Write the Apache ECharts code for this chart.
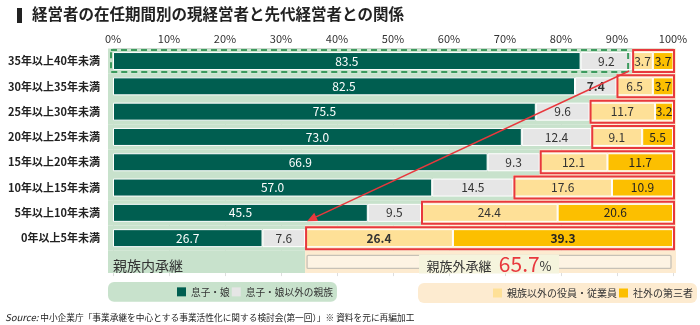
<!DOCTYPE html>
<html><head><meta charset="utf-8">
<script src="https://cdn.jsdelivr.net/npm/echarts@6/dist/echarts.min.js"></script>
<style>html,body{margin:0;padding:0;background:#fff}#c{width:700px;height:325px}</style>
</head><body><div id="c"></div>
<script>
// ---- data ----
const categories = ['35年以上40年未満','30年以上35年未満','25年以上30年未満','20年以上25年未満','15年以上20年未満','10年以上15年未満','5年以上10年未満','0年以上5年未満'];
const son        = [83.5, 82.5, 75.5, 73.0, 66.9, 57.0, 45.5, 26.7];
const relative   = [9.2, 7.4, 9.6, 12.4, 9.3, 14.5, 9.5, 7.6];
const employee   = [3.7, 6.5, 11.7, 9.1, 12.1, 17.6, 24.4, 26.4];
const thirdParty = [3.7, 3.7, 3.2, 5.5, 11.7, 10.9, 20.6, 39.3];
const boldRelative = [1];
const boldEmployee = [7];
const boldThird = [7];
const xMin = 0, xMax = 100, xStep = 10;

const internal = son.map((v, i) => +(v + relative[i]).toFixed(1));
const lastIdx = categories.length - 1;
const externalTotal = +(employee[lastIdx] + thirdParty[lastIdx]).toFixed(1);
const yCats = categories.concat(['']);

const FONT = '"Noto Sans CJK JP","Noto Sans",sans-serif';
const C = {
  son: '#005e50', rel: '#e6e6e6', emp: '#fee097', third: '#fcbf00',
  greenBg: '#c8e2cc', peachBg: '#fdebd0', red: '#e8383d', dash: '#3c9b5e'
};

function items(arr, bolds) {
  return arr.map((v, i) => bolds.indexOf(i) >= 0 ? { value: v, label: { fontWeight: 'bold' } } : v);
}

function barSeries(name, arr, color, labelColor, bolds) {
  return {
    name, type: 'bar', stack: 'all', barWidth: 18, z: 2,
    data: items(arr, bolds),
    itemStyle: { color, borderColor: '#ffffff', borderWidth: 1 },
    label: {
      show: true, position: 'inside', fontFamily: FONT, fontSize: 12, color: labelColor,
      formatter: p => Number(p.value).toFixed(1)
    }
  };
}

const chart = echarts.init(document.getElementById('c'));

const option = {
  animation: false,
  textStyle: { fontFamily: FONT },
  title: {
    text: '経営者の在任期間別の現経営者と先代経営者との関係',
    left: 27, top: 1,
    textStyle: { fontFamily: FONT, fontSize: 15.5, fontWeight: 'bold', color: '#222' }
  },
  grid: { left: 113, right: 27, top: 48.4, height: 227.7 },
  xAxis: {
    type: 'value', position: 'top', min: xMin, max: xMax, interval: xStep,
    axisLabel: { formatter: '{value}%', fontFamily: FONT, fontSize: 11, color: '#333', margin: 4 },
    axisLine: { show: true, lineStyle: { color: '#cfcfcf' } },
    axisTick: { show: false },
    splitLine: { show: true, lineStyle: { color: '#dedede' } }
  },
  yAxis: {
    type: 'category', inverse: true, data: yCats,
    axisLine: { show: false }, axisTick: { show: false },
    axisLabel: { fontFamily: FONT, fontSize: 11, fontWeight: 'bold', color: '#222', margin: 13 }
  },
  legend: [
    {
      left: 108, top: 282, width: 200, data: ['息子・娘', '息子・娘以外の親族'],
      backgroundColor: C.greenBg, borderRadius: 6, padding: [5, 4, 5, 69],
      itemWidth: 9, itemHeight: 9, itemGap: 2, icon: 'rect', selectedMode: false,
      itemStyle: { borderWidth: 0 },
      textStyle: { fontFamily: FONT, fontSize: 9.7, color: '#333' }
    },
    {
      left: 418, top: 283, width: 220, data: ['親族以外の役員・従業員', '社外の第三者'],
      backgroundColor: C.peachBg, borderRadius: 6, padding: [5, 4, 5, 75],
      itemWidth: 9, itemHeight: 9, itemGap: 2, icon: 'rect', selectedMode: false,
      itemStyle: { borderWidth: 0 },
      textStyle: { fontFamily: FONT, fontSize: 10, color: '#333' }
    }
  ],
  graphic: [
    { type: 'rect', left: 17, top: 8, shape: { width: 5, height: 15 }, style: { fill: '#222' } },
    { type: 'text', left: 114, top: 285, style: { text: '親族内承継', font: '12px ' + FONT, fill: '#333' } },
    { type: 'text', left: 427, top: 286, style: { text: '親族外承継', font: '12px ' + FONT, fill: '#333' } },
    {
      type: 'text', left: 5, top: 313,
      style: {
        text: '{i|Source:} 中小企業庁「事業承継を中心とする事業活性化に関する検討会(第一回）」※ 資料を元に再編加工',
        font: '8.7px ' + FONT, fill: '#222',
        rich: { i: { fontStyle: 'italic', fontSize: 9.5, fontFamily: FONT, fill: '#222' } }
      }
    }
  ],
  series: [
    {
      type: 'custom', name: 'bg', z: 1, silent: true, clip: false,
      encode: { x: 0, y: 1 },
      data: internal.map((v, i) => [v, i]).concat([[internal[lastIdx], categories.length]]),
      renderItem: (params, api) => {
        const inner = api.value(0), cat = api.value(1);
        const c0 = api.coord([xMin, cat]), ci = api.coord([inner, cat]), c1 = api.coord([xMax, cat]);
        const band = api.size([0, 1])[1];
        const last = cat === categories.length;
        const top = c0[1] - band / 2;
        const h = last ? band - 3 : band;
        return {
          type: 'group', children: [
            { type: 'rect', shape: { x: c0[0] - 5, y: top, width: ci[0] - c0[0] + 5, height: h }, style: { fill: C.greenBg } },
            { type: 'rect', shape: { x: ci[0], y: top, width: c1[0] + 3 - ci[0], height: h }, style: { fill: C.peachBg } }
          ]
        };
      }
    },
    barSeries('息子・娘', son, C.son, '#ffffff', []),
    barSeries('息子・娘以外の親族', relative, C.rel, '#333333', boldRelative),
    barSeries('親族以外の役員・従業員', employee, C.emp, '#333333', boldEmployee),
    barSeries('社外の第三者', thirdParty, C.third, '#222222', boldThird),
    {
      type: 'custom', name: 'redBoxes', z: 3, silent: true, clip: false,
      encode: { x: 0, y: 1 },
      data: internal.map((v, i) => [v, i]),
      renderItem: (params, api) => {
        const inner = api.value(0), cat = api.value(1);
        const ci = api.coord([inner, cat]), c1 = api.coord([xMax, cat]);
        return {
          type: 'rect',
          shape: { x: ci[0] + 1, y: ci[1] - 11, width: c1[0] - ci[0], height: 22 },
          style: { fill: 'none', stroke: C.red, lineWidth: 2 }
        };
      }
    },
    {
      type: 'custom', name: 'dashBox', z: 3, silent: true, clip: false,
      encode: { x: 0, y: 1 },
      data: [[internal[0], 0]],
      renderItem: (params, api) => {
        const inner = api.value(0), cat = api.value(1);
        const c0 = api.coord([xMin, cat]), ci = api.coord([inner, cat]);
        return {
          type: 'rect',
          shape: { x: c0[0] - 2, y: c0[1] - 11, width: ci[0] - c0[0] - 2, height: 22 },
          style: { fill: 'none', stroke: C.dash, lineWidth: 2, lineDash: [6, 4] }
        };
      }
    },
    {
      type: 'custom', name: 'arrow', z: 4, silent: true, clip: false,
      encode: { x: [0, 2], y: [1, 3] },
      data: [[internal[0], 0, internal[lastIdx], lastIdx]],
      renderItem: (params, api) => {
        const p1 = api.coord([api.value(0), api.value(1)]);
        const p2 = api.coord([api.value(2), api.value(3)]);
        p1[0] -= 3; p1[1] += 10;
        p2[0] += 2; p2[1] -= 17;
        const a = Math.atan2(p2[1] - p1[1], p2[0] - p1[0]);
        const L = 10, W = 4.5;
        const bx = p2[0] - L * Math.cos(a), by = p2[1] - L * Math.sin(a);
        const nx = -Math.sin(a) * W, ny = Math.cos(a) * W;
        return {
          type: 'group', children: [
            { type: 'line', shape: { x1: p1[0], y1: p1[1], x2: bx, y2: by }, style: { stroke: C.red, lineWidth: 1.5 } },
            { type: 'polygon', shape: { points: [[p2[0], p2[1]], [bx + nx, by + ny], [bx - nx, by - ny]] }, style: { fill: C.red } }
          ]
        };
      }
    },
    {
      type: 'custom', name: 'bottomNote', z: 3, silent: true, clip: false,
      encode: { x: 0, y: 1 },
      data: [[internal[lastIdx], categories.length, externalTotal]],
      renderItem: (params, api) => {
        const inner = api.value(0), cat = api.value(1), ext = api.value(2);
        const c0 = api.coord([xMin, cat]), ci = api.coord([inner, cat]), c1 = api.coord([xMax, cat]);
        const cy = c0[1];
        const mid = (ci[0] + c1[0]) / 2;
        return {
          type: 'group', children: [
            { type: 'text', x: c0[0], y: cy + 2, style: { text: '親族内承継', font: '14px ' + FONT, fill: '#333', verticalAlign: 'middle', align: 'left' } },
            { type: 'rect', shape: { x: ci[0] + 2, y: cy - 8, width: c1[0] - ci[0] - 4, height: 13, r: 1 }, style: { fill: '#fdf3e3', stroke: '#c7c1b6', lineWidth: 1.3 } },
            { type: 'rect', shape: { x: mid - 70, y: cy - 9, width: 140, height: 19 }, style: { fill: '#f5f4dd' } },
            {
              type: 'text', x: mid, y: cy + 1,
              style: {
                text: '{a|親族外承継} {b|' + ext.toFixed(1) + '}{c|%}',
                align: 'center', verticalAlign: 'middle',
                rich: {
                  a: { fontFamily: FONT, fontSize: 13, fill: '#333', padding: [4, 4, 0, 0] },
                  b: { fontFamily: FONT, fontSize: 21, fill: C.red },
                  c: { fontFamily: FONT, fontSize: 13, fill: '#333', padding: [4, 0, 0, 0] }
                }
              }
            }
          ]
        };
      }
    }
  ]
};
chart.setOption(option);
</script>
</body></html>
